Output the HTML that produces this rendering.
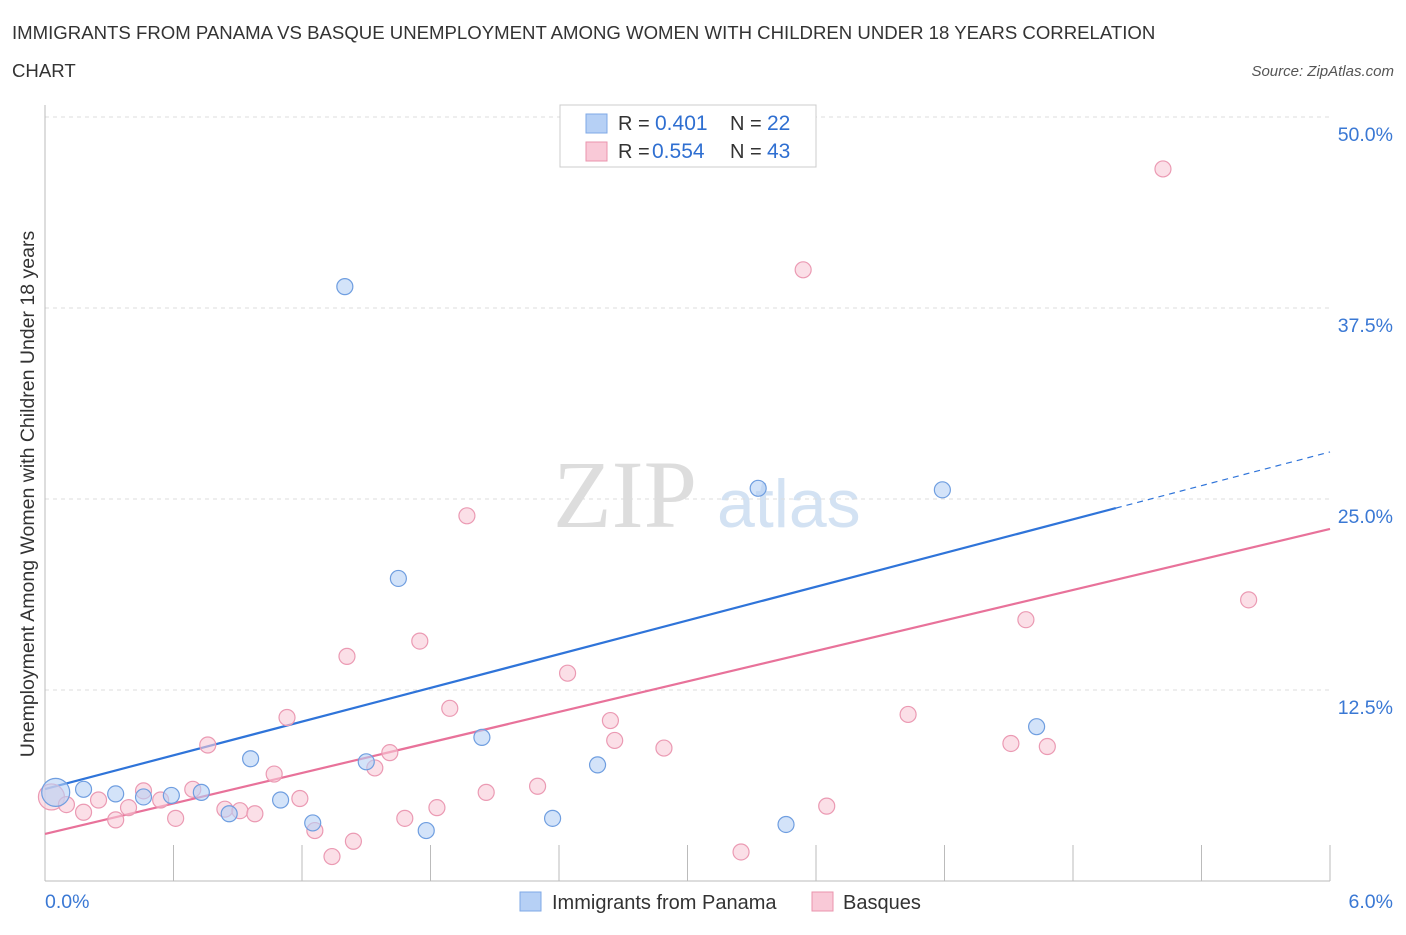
<!DOCTYPE html>
<html><head><meta charset="utf-8">
<style>
body{margin:0;background:#fff;font-family:"Liberation Sans",sans-serif;}
</style></head><body>
<svg id="chart" width="1406" height="930" xmlns="http://www.w3.org/2000/svg" font-family="Liberation Sans, sans-serif">
<text x="12" y="39" font-size="18.6" fill="#333">IMMIGRANTS FROM PANAMA VS BASQUE UNEMPLOYMENT AMONG WOMEN WITH CHILDREN UNDER 18 YEARS CORRELATION</text>
<text x="12" y="77" font-size="18.6" fill="#333">CHART</text>
<text x="1394" y="76" font-size="15" fill="#555" text-anchor="end" font-style="italic">Source: ZipAtlas.com</text>
<text x="553" y="527" font-size="96" fill="#ddd" style="font-family:'Liberation Serif',serif">ZIP</text>
<text x="717" y="527" font-size="68" fill="#d3e2f3">atlas</text>
<text transform="translate(34,494) rotate(-90)" font-size="19.5" fill="#333" text-anchor="middle">Unemployment Among Women with Children Under 18 years</text>
<g id="grid"></g><g id="lines"></g><g id="pts"></g>
<g>
<rect x="560" y="105" width="256" height="62" fill="#fff" stroke="#ccc"/>
<rect x="586" y="114" width="21" height="19" fill="#b6d0f5" stroke="#7fa8e6"/>
<text x="618" y="130" font-size="20" fill="#333">R = </text><text x="655" y="130" font-size="21" fill="#2f6fd1">0.401</text>
<text x="730" y="130" font-size="20" fill="#333">N = </text><text x="767" y="130" font-size="21" fill="#2f6fd1">22</text>
<rect x="586" y="142" width="21" height="19" fill="#f9c9d7" stroke="#ea94ad"/>
<text x="618" y="158" font-size="20" fill="#333">R = </text><text x="652" y="158" font-size="21" fill="#2f6fd1">0.554</text>
<text x="730" y="158" font-size="20" fill="#333">N = </text><text x="767" y="158" font-size="21" fill="#2f6fd1">43</text>
</g>
<g>
<rect x="520" y="892" width="21" height="19" fill="#b6d0f5" stroke="#7fa8e6"/>
<text x="552" y="909" font-size="20" fill="#333">Immigrants from Panama</text>
<rect x="812" y="892" width="21" height="19" fill="#f9c9d7" stroke="#ea94ad"/>
<text x="843" y="909" font-size="20" fill="#333">Basques</text>
</g>
</svg>
<script>
const yTicks=[12.5,25,37.5,50];
const yTickLabels=["12.5%","25.0%","37.5%","50.0%"];
const xTickLabels=["0.0%","6.0%"];
const blueX=[0.05,0.18,0.33,0.46,0.59,0.73,0.86,0.96,1.10,1.25,1.40,1.50,1.65,1.78,2.04,2.37,2.58,3.11,3.33,3.46,4.19,4.63];
const blueY=[5.8,6.0,5.7,5.5,5.6,5.8,4.4,8.0,5.3,3.8,38.9,7.8,19.8,3.3,9.4,4.1,7.6,50.0,25.7,3.7,25.6,10.1];
const pinkX=[0.03,0.10,0.18,0.25,0.33,0.39,0.46,0.54,0.61,0.69,0.76,0.84,0.91,0.98,1.07,1.13,1.19,1.26,1.34,1.41,1.44,1.54,1.61,1.68,1.75,1.83,1.89,1.97,2.06,2.30,2.44,2.64,2.66,2.89,3.25,3.54,3.65,4.03,4.51,4.58,4.68,5.22,5.62];
const pinkY=[5.5,5.0,4.5,5.3,4.0,4.8,5.9,5.3,4.1,6.0,8.9,4.7,4.6,4.4,7.0,10.7,5.4,3.3,1.6,14.7,2.6,7.4,8.4,4.1,15.7,4.8,11.3,23.9,5.8,6.2,13.6,10.5,9.2,8.7,1.9,40.0,4.9,10.9,9.0,17.1,8.8,46.6,18.4];
const blueLine=[6.02,28.08]; const pinkLine=[3.08,23.04];
const X=v=>45+v*214.17, Y=v=>881-v*15.28;
const NS="http://www.w3.org/2000/svg";
function mk(p,t,a){const e=document.createElementNS(NS,t);for(const k in a)e.setAttribute(k,a[k]);p.appendChild(e);return e;}
const g=document.getElementById('grid'),L=document.getElementById('lines'),P=document.getElementById('pts');
yTicks.forEach((t,i)=>{
 const l=mk(g,'line',{x1:45,x2:1330,y1:Y(t),y2:Y(t),stroke:'#ddd','stroke-dasharray':'4,4'});
 
 
 const tx=mk(g,'text',{x:1393,y:Y(t)+24,'font-size':19.5,fill:'#3a78d4','text-anchor':'end'});tx.textContent=yTickLabels[i];
 
 
});
const ax=mk(g,'line',{x1:45,x2:1330,y1:881,y2:881,stroke:'#bbb'});


const ay=mk(g,'line',{x1:45,x2:45,y1:105,y2:881,stroke:'#bbb'});


for(let i=0;i<=10;i++){const x=45+i*128.5;const t=mk(g,'line',{x1:x,x2:x,y1:845,y2:881,stroke:'#bbb'});
 
 }
xTickLabels.forEach((s,i)=>{const t=mk(g,'text',{x:i?1393:45,y:908,'font-size':19.5,fill:'#3a78d4','text-anchor':i?'end':'start'});t.textContent=s;
 
 });
const bx=5.0, by=blueLine[0]+(blueLine[1]-blueLine[0])*bx/6;
let l1=mk(L,'line',{x1:X(0),y1:Y(blueLine[0]),x2:X(bx),y2:Y(by),stroke:'#2f74d9','stroke-width':2.2});


let l2=mk(L,'line',{x1:X(bx),y1:Y(by),x2:X(6),y2:Y(blueLine[1]),stroke:'#2f74d9','stroke-width':1.2,'stroke-dasharray':'6,5'});


let l3=mk(L,'line',{x1:X(0),y1:Y(pinkLine[0]),x2:X(6),y2:Y(pinkLine[1]),stroke:'#e8729a','stroke-width':2.2});


pinkX.forEach((v,i)=>{const c=mk(P,'circle',{cx:X(v),cy:Y(pinkY[i]),r:i?8:13,fill:'#f9c9d7','fill-opacity':0.6,stroke:'#eb9ab3','stroke-width':1.2});
 
 });
blueX.forEach((v,i)=>{const c=mk(P,'circle',{cx:X(v),cy:Y(blueY[i]),r:i?8:14,fill:'#b6d0f5','fill-opacity':0.6,stroke:'#6f9ee0','stroke-width':1.2});
 
 });
</script>
</body></html>
